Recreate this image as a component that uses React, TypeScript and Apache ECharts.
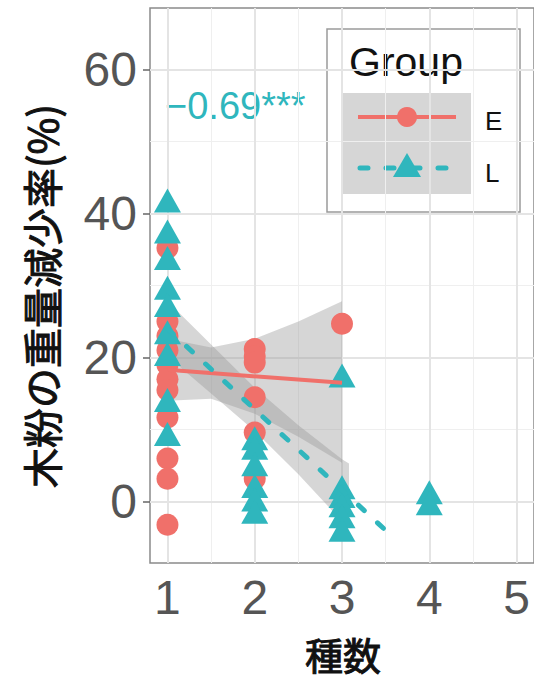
import React, { useEffect, useRef } from "react";
import * as echarts from "echarts";

// ---- tick labels / grid ----
const xTicks = [1, 2, 3, 4, 5];
const yTicks = [0, 20, 40, 60];
const xMinorGrid = [1.5, 2.5, 3.5, 4.5];
const yMinorGrid = [10, 30, 50];

// ---- groups ----
const groupNames = ["E", "L"];
const legendTitle = "Group";
const annotationText = "\u22120.69***";
const xTitle = "種数";
const yTitle = "木粉の重量減少率(%)";

// ---- raw points, group E (circles) ----
const eX = [1, 1, 1, 1, 1, 1, 1, 1, 1, 1, 1, 2, 2, 2, 2, 2, 2, 3];
const eY = [35.2, 25, 23, 21, 19, 17, 15.5, 11.7, 6, 3.2, -3.2, 21.2, 20.2, 19.3, 14.5, 9.6, 3.2, 24.7];

// ---- raw points, group L (triangles) ----
const lX = [1, 1, 1, 1, 1, 1, 1, 1, 1, 2, 2, 2, 2, 2, 2, 3, 3, 3, 3, 3, 3, 4, 4];
const lY = [41.8, 37.5, 33.8, 29.7, 27.3, 23.5, 20.5, 14.1, 9.4, 8.8, 7.5, 5.2, 2.2, 0.3, -1.4, 17.5, 2.0, 0.8, -0.5, -2.0, -3.9, 1.3, -0.2];

// ---- fitted lines ----
const fitEX = [1, 3];
const fitEY = [18.3, 16.5];
const fitLX = [1, 3.53];
const fitLY = [24.0, -4.3];

// ---- confidence bands ----
const bandEX = [1, 1.5, 2, 2.5, 3];
const bandEUpper = [22.6, 21.4, 22.6, 25.0, 27.8];
const bandELower = [14.0, 14.3, 12.2, 9.0, 5.4];
const bandLX = [1, 1.5, 2, 2.5, 3, 3.08];
const bandLUpper = [27.8, 21.8, 15.8, 10.6, 5.9, 5.3];
const bandLLower = [20.2, 15.0, 9.8, 3.8, -2.7, -3.7];

const COLOR_E = "#F0706A";
const COLOR_L = "#2FB6BD";
const BAND = "rgba(153,153,153,0.4)";
const LATIN = "'Liberation Sans', Arial, Helvetica, sans-serif";
const CJK = "'Noto Sans CJK JP', 'Noto Sans CJK SC', sans-serif";

const zip = (xs: number[], ys: number[]) => xs.map((x, i) => [x, ys[i]]);

function bandSeries(xs: number[], up: number[], lo: number[]) {
  return {
    type: "custom",
    coordinateSystem: "cartesian2d",
    silent: true,
    data: [[xs[0], up[0]]],
    renderItem: (_p: any, api: any) => {
      const pts: number[][] = [];
      for (let i = 0; i < xs.length; i++) pts.push(api.coord([xs[i], up[i]]));
      for (let i = xs.length - 1; i >= 0; i--) pts.push(api.coord([xs[i], lo[i]]));
      return { type: "polygon", shape: { points: pts }, style: { fill: BAND } };
    },
  };
}

export default function App() {
  const ref = useRef<HTMLDivElement>(null);
  useEffect(() => {
    if (!ref.current) return;
    const chart = echarts.init(ref.current, undefined, { renderer: "svg" });
    const gridLine = (axis: "xAxis" | "yAxis", vals: number[], color: string, width: number) =>
      vals.map((v) => ({ [axis]: v, lineStyle: { color, width, type: "solid" } }));
    const option: any = {
      animation: false,
      backgroundColor: "#ffffff",
      grid: {
        left: 150,
        top: 8,
        right: -3,
        bottom: 118,
        show: true,
        backgroundColor: "#ffffff",
        borderColor: "#8a8a8a",
        borderWidth: 1.5,
      },
      xAxis: {
        type: "value",
        min: 0.8,
        max: 5.2,
        axisLine: { show: false },
        splitLine: { show: false },
        axisTick: { show: true, customValues: xTicks, length: 7, lineStyle: { color: "#666", width: 1.5 } },
        axisLabel: { customValues: xTicks, fontSize: 48, color: "#555", margin: 10, fontFamily: LATIN },
      },
      yAxis: {
        type: "value",
        min: -8.5,
        max: 68.5,
        axisLine: { show: false },
        splitLine: { show: false },
        axisTick: { show: true, customValues: yTicks, length: 7, lineStyle: { color: "#666", width: 1.5 } },
        axisLabel: { customValues: yTicks, fontSize: 48, color: "#555", margin: 13, fontFamily: LATIN },
      },
      series: [
        {
          type: "line",
          data: [[0.8, 0]],
          showSymbol: false,
          silent: true,
          lineStyle: { width: 0 },
          markLine: {
            silent: true,
            symbol: "none",
            z: 1,
            label: { show: false },
            animation: false,
            data: [
              ...gridLine("yAxis", yMinorGrid, "#efefef", 1),
              ...gridLine("xAxis", xMinorGrid, "#efefef", 1),
              ...gridLine("yAxis", yTicks, "#e4e4e4", 2),
              ...gridLine("xAxis", xTicks, "#e4e4e4", 2),
            ],
          },
        },
        {
          name: groupNames[0],
          type: "scatter",
          data: zip(eX, eY),
          symbol: "circle",
          symbolSize: 22,
          itemStyle: { color: COLOR_E, opacity: 1 },
        },
        {
          name: groupNames[1],
          type: "scatter",
          data: zip(lX, lY),
          symbol: "triangle",
          symbolSize: [27, 24],
          itemStyle: { color: COLOR_L, opacity: 1 },
        },
        bandSeries(bandEX, bandEUpper, bandELower),
        {
          type: "line",
          data: zip(fitEX, fitEY),
          showSymbol: false,
          silent: true,
          lineStyle: { color: COLOR_E, width: 4 },
        },
        bandSeries(bandLX, bandLUpper, bandLLower),
        {
          type: "line",
          data: zip(fitLX, fitLY),
          showSymbol: false,
          silent: true,
          lineStyle: { color: COLOR_L, width: 5, type: [8, 18], cap: "round" },
        },
      ],
      graphic: [
        {
          type: "text",
          x: 165,
          y: 106,
          style: { text: annotationText, fontSize: 38, fontFamily: LATIN, fill: COLOR_L, align: "left", verticalAlign: "middle" },
        },
        {
          type: "text",
          x: 41,
          y: 296,
          rotation: Math.PI / 2,
          style: {
            text: yTitle,
            fontSize: 40,
            fontWeight: "normal",
            fontFamily: CJK,
            fill: "#111",
            stroke: "#111",
            lineWidth: 1,
            align: "center",
            verticalAlign: "middle",
          },
        },
        {
          type: "text",
          x: 343,
          y: 653,
          style: {
            text: xTitle,
            fontSize: 38,
            fontWeight: "normal",
            fontFamily: CJK,
            fill: "#111",
            stroke: "#111",
            lineWidth: 1,
            align: "center",
            verticalAlign: "middle",
          },
        },
        // legend
        { type: "rect", shape: { x: 327, y: 29, width: 193, height: 183 }, style: { fill: "#fff", stroke: "#9a9a9a", lineWidth: 1.5 } },
        { type: "rect", shape: { x: 343, y: 93, width: 128, height: 101 }, style: { fill: "#d6d6d6" } },
        {
          type: "text",
          x: 349,
          y: 62,
          style: { text: legendTitle, fontSize: 41, fontFamily: LATIN, fill: "#111", align: "left", verticalAlign: "middle" },
        },
        { type: "line", shape: { x1: 358, y1: 117, x2: 456, y2: 117 }, style: { stroke: COLOR_E, lineWidth: 4 } },
        { type: "circle", shape: { cx: 407, cy: 117, r: 10 }, style: { fill: COLOR_E } },
        { type: "line", shape: { x1: 360, y1: 168, x2: 456, y2: 168 }, style: { stroke: COLOR_L, lineWidth: 5, lineDash: [8, 18], lineCap: "round" } },
        { type: "polygon", shape: { points: [[407, 153], [421, 177], [393, 177]] }, style: { fill: COLOR_L } },
        {
          type: "text",
          x: 485,
          y: 121,
          style: { text: groupNames[0], fontSize: 26, fontFamily: LATIN, fill: "#111", align: "left", verticalAlign: "middle" },
        },
        {
          type: "text",
          x: 485,
          y: 173,
          style: { text: groupNames[1], fontSize: 26, fontFamily: LATIN, fill: "#111", align: "left", verticalAlign: "middle" },
        },
      ],
    };
    chart.setOption(option);
    return () => chart.dispose();
  }, []);
  return <div ref={ref} style={{ position: "absolute", left: 0, top: 0, width: 534, height: 681 }} />;
}
